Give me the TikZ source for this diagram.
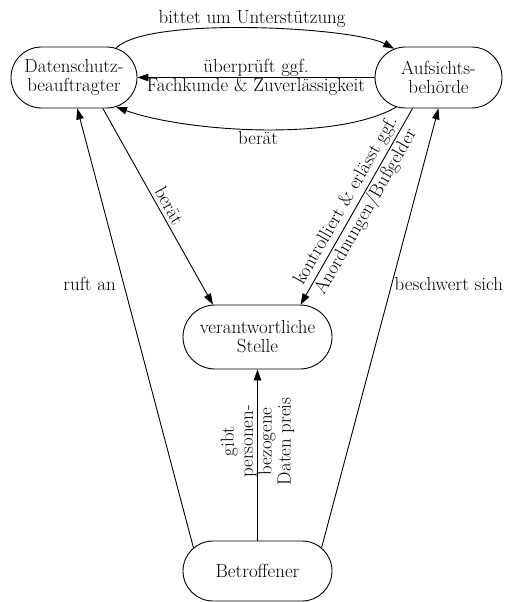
\documentclass[tikz,border=0pt]{standalone}
\usepackage{fontspec}
\usetikzlibrary{shapes.misc,arrows.meta}
\begin{document}
\begin{tikzpicture}[x=1bp,y=-1bp,
  line width=0.9bp,
  every node/.style={font=\fontsize{19}{19}\selectfont},
  party/.style={draw, rounded rectangle, inner sep=0pt, align=center,
    minimum height=61bp},
  flow/.style={-{Triangle[length=11bp,width=7.5bp]}},
  lbl/.style={inner sep=1.5bp, align=center}]
\useasboundingbox (0,0) rectangle (513,602);

% parties
\node[party, minimum width=126bp] (ds) at (74,77.5) {Datenschutz-\\beauftragter};
\node[party, minimum width=127bp] (au) at (438.5,77.5) {Aufsichts-\\behörde};
\node[party, minimum width=149bp, minimum height=64bp] (vs) at (257.5,337) {verantwortliche\\Stelle};
\node[party, minimum width=149bp, minimum height=60bp] (bt) at (257.5,571) {Betroffener};

% between officer and authority
\draw[flow] (ds.35) to[out=45, in=152, looseness=0.42]
  node[lbl, above, inner sep=0.5bp] {bittet um Unterstützung} (au.147);
\draw[flow] (au.west) -- node[lbl, pos=0.5] {überprüft ggf.\\Fachkunde \& Zuverlässigkeit} (ds.east);
\draw[flow] (au.-145) to[out=-150, in=-20, looseness=0.65]
  node[lbl, below] {berät} (ds.-35);

% towards the controller
\draw[flow] (ds.-47) -- node[lbl, pos=0.52, sloped, above=2bp] {berät} (vs.144);
\draw[flow] (au.230) -- node[midway, sloped, inner sep=0pt, align=center,
  font=\fontsize{19}{23}\selectfont] {kontrolliert \& erlässt ggf.\\Anordnungen/Bußgelder} (vs.37);

% from the data subject
\draw[flow] (bt.160) -- node[lbl, pos=0.6, left=6bp] {ruft an} (ds.-84);
\draw[flow] (bt.20) -- node[lbl, pos=0.6, right=1bp] {beschwert sich} (au.south);
\draw[flow] (bt.north) -- node[pos=0.58, rotate=90, inner sep=0pt, align=center] {gibt\\personen-\\bezogene\\Daten preis} (vs.south);
\end{tikzpicture}
\end{document}
